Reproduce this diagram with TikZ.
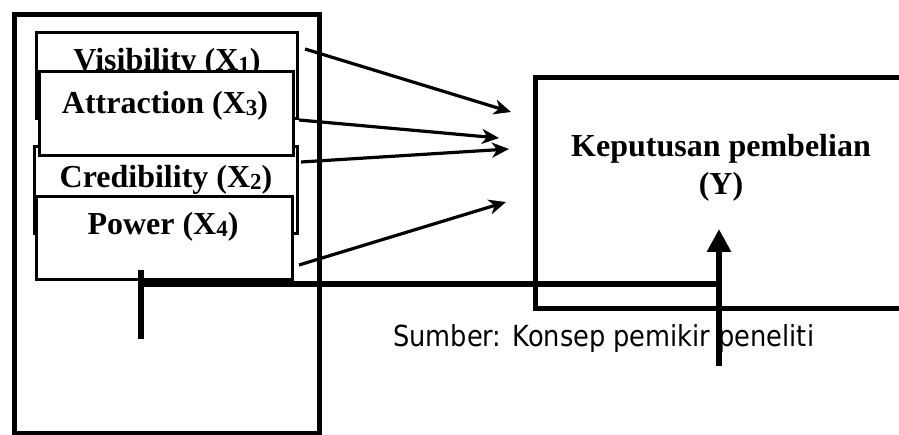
\documentclass[tikz,border=0pt]{standalone}
\usepackage{fontspec}
\setmainfont{Liberation Serif}
\newfontfamily\srcfont{DejaVu Sans}
\usetikzlibrary{arrows.meta}
\usetikzlibrary{calc}
\newcommand\vsub[1]{\raisebox{-1.5pt}{\fontsize{23}{23}\selectfont #1}}
\tikzstyle{frame}=[draw,line width=5pt,inner sep=0pt,anchor=north west]
\tikzstyle{var}=[draw,fill=white,line width=3pt,inner sep=0pt,anchor=north west]
\tikzstyle{lbl}=[anchor=base,inner sep=0pt,font=\bfseries\fontsize{32}{36}\selectfont]
\tikzstyle{pa}=[line width=3.2pt,-{Stealth[length=17pt,width=15pt,inset=5pt]}]
\tikzstyle{bar}=[line width=6pt]
\tikzstyle{bigpa}=[line width=6pt,-{Triangle[length=23pt,width=23pt]}]
\begin{document}
\begin{tikzpicture}[x=1pt,y=-1pt]
	\useasboundingbox (0,0) rectangle (899,435);
	\node[frame,minimum width=305pt,minimum height=419pt] (left) at (12,12) {};
	\node[var,minimum width=261pt,minimum height=86pt] (vis) at (35,31) {};
	\node[lbl] (tvis) at (167,71) {Visibility (X\vsub{1})};
	\node[var,minimum width=263pt,minimum height=87pt] (cred) at (33,145) {};
	\node[lbl] (tcred) at (166,188) {Credibility (X\vsub{2})};
	\node[var,minimum width=254pt,minimum height=84pt] (att) at (38,70) {};
	\node[lbl] (tatt) at (165,114) {Attraction (X\vsub{3})};
	\node[var,minimum width=256pt,minimum height=83pt] (pow) at (35,195) {};
	\node[lbl] (tpow) at (163,235) {Power (X\vsub{4})};
	\node[frame,minimum width=390pt,minimum height=231pt] (kp) at (533,75) {};
	\node[lbl] (tkp) at (721,157) {Keputusan pembelian};
	\node[lbl] (ty) at (721,195) {(Y)};
	\node[anchor=base west,inner sep=0pt,font=\srcfont\fontsize{29}{34}\selectfont] (src) at (393,346) {\scalebox{0.885}[1]{Sumber: Konsep pemikir peneliti}};
	\coordinate (t1) at (511,112);
	\coordinate (t2) at (499,138);
	\coordinate (t3) at (509,149);
	\coordinate (t4) at (506,202);
	\draw[pa] ([xshift=6pt,yshift=-18pt]vis.north east) -- (t1);
	\draw[pa] (vis.south east) -- (t2);
	\draw[pa] ([xshift=2pt,yshift=-17pt]cred.north east) -- (t3);
	\draw[pa] ([xshift=5pt,yshift=16pt]pow.south east) -- (t4);
	\coordinate (a) at (141,270);
	\coordinate (b) at (141,339);
	\coordinate (c) at (141,284);
	\coordinate (d) at (719,284);
	\coordinate (e) at (719,366);
	\coordinate (f) at (719,229);
	\draw[bar] (a) -- (b);
	\draw[bar] (c) -- (d);
	\draw[bigpa] (e) -- (f);
\end{tikzpicture}
\end{document}
